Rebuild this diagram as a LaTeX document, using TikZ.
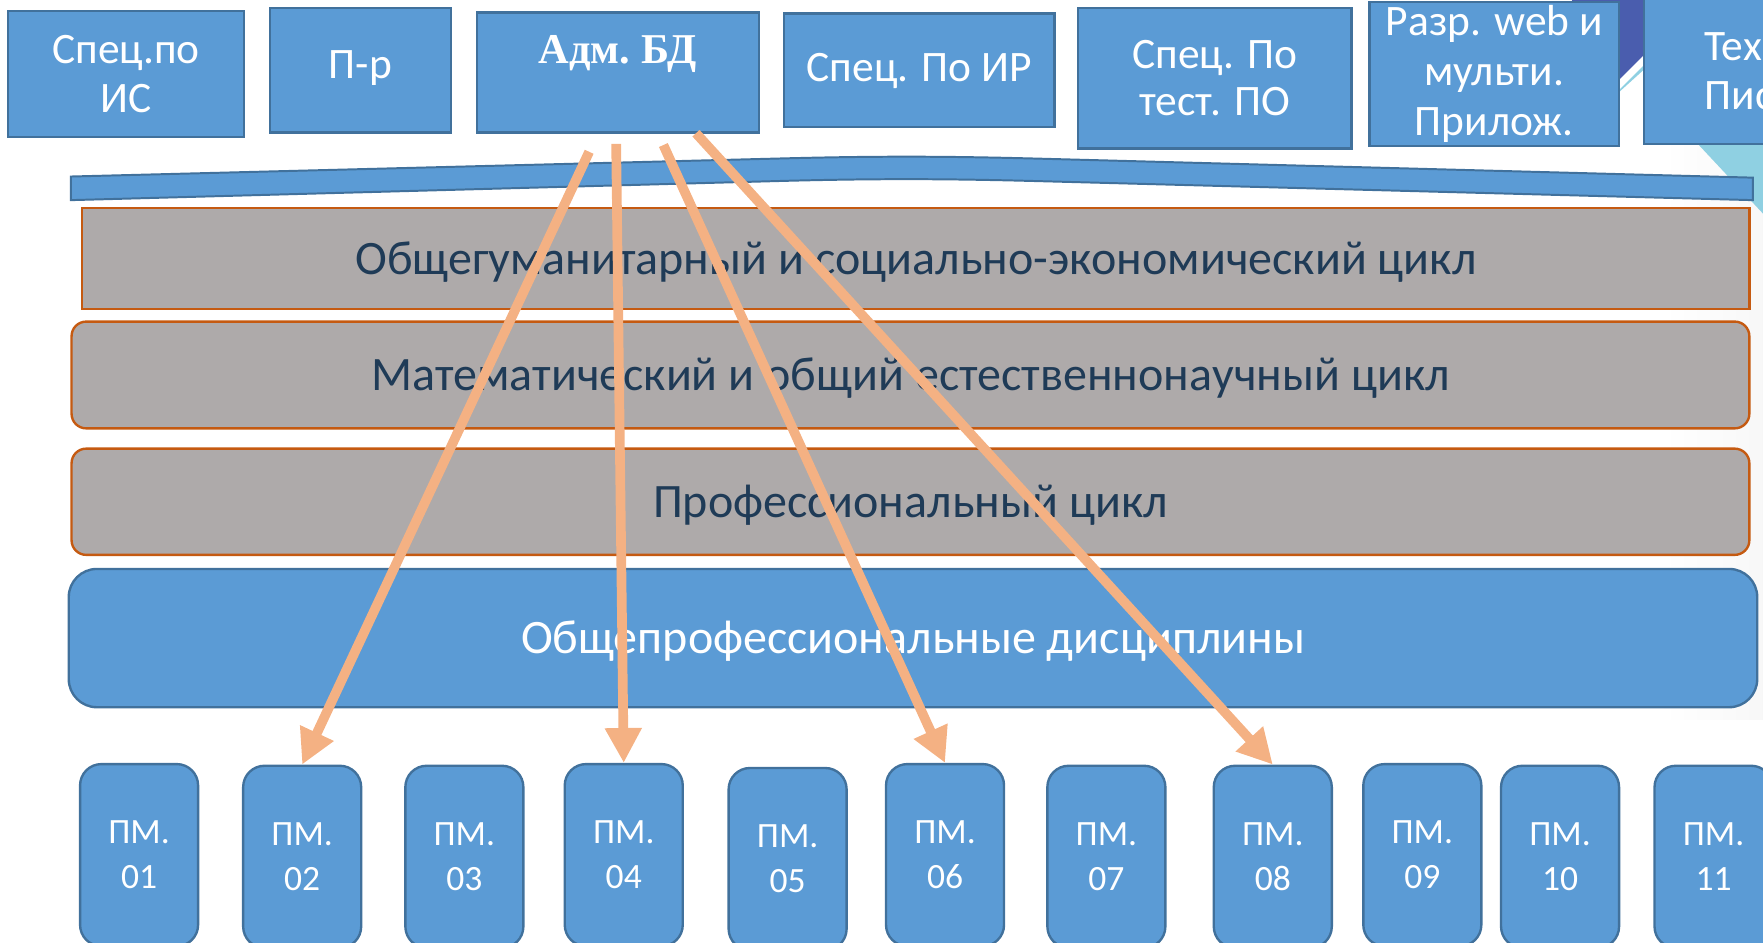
\documentclass[tikz,border=0pt]{standalone}
\usepackage{fontspec}
\setmainfont{Carlito}
\newfontfamily\serifbd{Liberation Serif}
\usetikzlibrary{arrows.meta}
\definecolor{boxblue}{HTML}{5B9BD5}
\definecolor{boxedge}{HTML}{41719C}
\definecolor{cycgray}{HTML}{AEAAAA}
\definecolor{cycedge}{HTML}{C55A11}
\definecolor{cyctext}{HTML}{1F3B57}
\definecolor{arrowor}{HTML}{F4B183}
\definecolor{decodark}{HTML}{4A5DAE}
\definecolor{decocyan}{HTML}{8FD0E2}

\begin{document}
\begin{tikzpicture}[x=0.02cm,y=-0.02cm,
topbox/.style={draw=boxedge,fill=boxblue,line width=1.2pt,text=white,align=center,inner sep=0pt,
    font=\fontsize{22}{25}\selectfont},
cycbox/.style={draw=cycedge,fill=cycgray,line width=1.2pt,text=cyctext,rounded corners=0.26cm,
    minimum width=29.85cm,minimum height=1.9cm,text height=20pt,text depth=4.4pt,
    font=\fontsize{24.3}{29}\selectfont},
pmbox/.style={draw=boxedge,fill=boxblue,line width=1.2pt,text=white,align=center,anchor=north,
    minimum width=2.1cm,minimum height=3.24cm,rounded corners=0.38cm,font=\fontsize{18}{22.7}\selectfont},
flow/.style={draw=arrowor,line width=4.9pt,-{Triangle[width=0.62cm,length=0.62cm]}}]
\useasboundingbox (0,0) rectangle (1568,838);
\clip (0,0) rectangle (1568,838);

% slide background corner
\shade[left color=white,right color=black!3] (1480,128) rectangle (1568,640);
\fill[decocyan] (1420,100) -- (1520,0) -- (1568,0) -- (1568,190) -- (1510,128) -- (1462,128) -- (1462,62) -- cycle;
\fill[decodark] (1398,0) -- (1511,0) -- (1420,91) -- cycle;

% specialities
\node (spis) [topbox,minimum width=4.2cm,minimum height=2.24cm] at (112,66) {Спец.по\\ИС};
\node (prog) [topbox,minimum width=3.22cm,minimum height=2.22cm,text height=14pt,text depth=5.4pt] at (320.5,62.5) {П-р};
\node (admbd) [topbox,minimum width=5.02cm,minimum height=2.14cm,
    label={[anchor=north,yshift=-12pt,inner sep=0pt,text=white,
    font=\serifbd\bfseries\fontsize{21.5}{26}\selectfont]north:Адм.~БД}] at (549.5,64.5) {};
\node (spir) [topbox,minimum width=4.82cm,minimum height=2.02cm,text height=16pt,text depth=4.6pt] at (817.5,62.5) {Спец. По ИР};
\node (sptest) [topbox,minimum width=4.86cm,minimum height=2.5cm,font=\fontsize{22}{24}\selectfont]
    at (1080.5,69.5) {Спец. По\\тест. ПО};
\node (webdev) [topbox,minimum width=4.44cm,minimum height=2.57cm,font=\fontsize{22}{25.5}\selectfont]
    at (1329,65.75) {Разр. web и\\мульти.\\Прилож.};
\node (techw) [topbox,minimum width=6.76cm,minimum height=2.58cm,text width=4.6cm,align=left] at (1631,63.5) {Тех\\Пис};

% roof
\draw[draw=boxedge,fill=boxblue,line width=1pt] (63,157) -- (700,140.8)
    .. controls (780,138.8) and (840,138.9) .. (920,141) -- (1559,158) -- (1559,178) -- (920,161)
    .. controls (840,158.9) and (780,158.8) .. (700,160.8) -- (63,178) -- cycle;

% cycles
\node (gumcyc) [cycbox,sharp corners,minimum width=29.66cm,minimum height=1.8cm] at (814.5,230) {Общегуманитарный и социально-экономический цикл};
\node (matcyc) [cycbox] at (809.75,333.5) {Математический и общий естественнонаучный цикл};
\node (profcyc) [cycbox,minimum height=1.89cm] at (809.75,446.25) {Профессиональный цикл};
\node (opd) [cycbox,draw=boxedge,fill=boxblue,text=white,rounded corners=0.5cm,
    minimum width=30.04cm,minimum height=2.46cm] at (812,567.5) {Общепрофессиональные дисциплины};

% modules
\node (pm01) [pmbox] at (123.7,678.5) {ПМ.\\01};
\node (pm02) [pmbox] at (268.75,680) {ПМ.\\02};
\node (pm03) [pmbox] at (413,680) {ПМ.\\03};
\node (pm04) [pmbox] at (554.75,678.5) {ПМ.\\04};
\node (pm05) [pmbox] at (700.5,682) {ПМ.\\05};
\node (pm06) [pmbox] at (840.5,678.5) {ПМ.\\06};
\node (pm07) [pmbox] at (984,680) {ПМ.\\07};
\node (pm08) [pmbox] at (1132,680) {ПМ.\\08};
\node (pm09) [pmbox] at (1265,678.5) {ПМ.\\09};
\node (pm10) [pmbox] at (1387.5,680) {ПМ.\\10};
\node (pm11) [pmbox] at (1524,680) {ПМ.\\11};

% links from Адм. БД
\coordinate (adm1) at (524,135);
\coordinate (adm2) at (548,128);
\coordinate (adm3) at (590,129);
\coordinate (adm4) at (619,118.5);
\draw[flow] (adm1) -- (pm02.north);
\draw[flow] (adm2) -- (pm04.north);
\draw[flow] (adm3) -- (pm06.north);
\draw[flow] (adm4) -- (pm08.north);
\end{tikzpicture}
\end{document}
